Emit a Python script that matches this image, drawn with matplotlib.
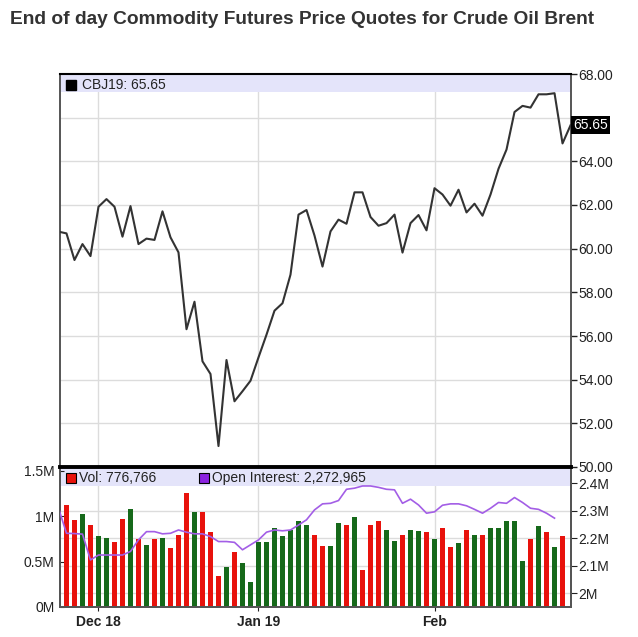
import matplotlib.pyplot as plt
from matplotlib.patches import Rectangle
from matplotlib.transforms import blended_transform_factory

plt.rcParams['font.family'] = ['Liberation Sans', 'DejaVu Sans']

# closing price, trading-day index -1 .. 63
price = [60.78, 60.70, 59.48, 60.21, 59.66, 61.92, 62.27, 61.92, 60.55, 61.95,
         60.21, 60.46, 60.40, 61.71, 60.52, 59.83, 56.31, 57.57, 54.84, 54.26,
         50.96, 54.90, 53.01, 53.47, 53.95, 55.02, 56.06, 57.16, 57.50, 58.81,
         61.56, 61.77, 60.60, 59.18, 60.79, 61.33, 61.14, 62.58, 62.58, 61.45,
         61.05, 61.17, 61.56, 59.82, 61.17, 61.54, 60.84, 62.77, 62.48, 61.97,
         62.70, 61.66, 62.06, 61.51, 62.48, 63.66, 64.54, 66.26, 66.54, 66.46,
         67.07, 67.07, 67.12, 64.82, 65.65]
price_idx = list(range(-1, 64))

# volume in millions, trading-day index 0 .. 62
volume = [1.12, 0.96, 1.02, 0.90, 0.78, 0.76, 0.71, 0.97, 1.08, 0.75,
          0.68, 0.75, 0.76, 0.645, 0.795, 1.25, 1.05, 1.05, 0.82, 0.34,
          0.44, 0.61, 0.48, 0.28, 0.72, 0.72, 0.87, 0.78, 0.85, 0.95,
          0.90, 0.79, 0.67, 0.67, 0.92, 0.90, 0.99, 0.41, 0.90, 0.95,
          0.85, 0.73, 0.79, 0.85, 0.84, 0.82, 0.75, 0.87, 0.66, 0.70,
          0.85, 0.79, 0.79, 0.87, 0.87, 0.95, 0.95, 0.51, 0.75, 0.89,
          0.82, 0.66, 0.777]
vol_dir = "rrgrggrrgrgrgrrrgrrrgrgggggggggrrggrgrrrggrggrgrrgrgrgggggrgrgr"
vol_idx = list(range(0, 63))

# open interest in millions, trading-day index -1 .. 61
oi = [2.31, 2.218, 2.217, 2.215, 2.121, 2.139, 2.139, 2.139, 2.139, 2.152,
      2.194, 2.224, 2.224, 2.216, 2.218, 2.230, 2.222, 2.216, 2.216, 2.206,
      2.188, 2.188, 2.185, 2.158, 2.176, 2.194, 2.222, 2.230, 2.227, 2.230,
      2.248, 2.267, 2.303, 2.325, 2.327, 2.337, 2.378, 2.382, 2.390, 2.390,
      2.385, 2.378, 2.376, 2.327, 2.342, 2.321, 2.291, 2.296, 2.320, 2.325,
      2.325, 2.318, 2.305, 2.291, 2.309, 2.330, 2.327, 2.348, 2.330, 2.309,
      2.305, 2.291, 2.273]
oi_idx = list(range(-1, 62))

month_ticks = [4, 24, 46]
month_labels = ['Dec 18', 'Jan 19', 'Feb']
price_ticks = [50, 52, 54, 56, 58, 60, 62, 64, 66, 68]
vol_ticks = [0, 0.5, 1.0, 1.5]
vol_labels = ['0M', '0.5M', '1M', '1.5M']
oi_ticks = [2.0, 2.1, 2.2, 2.3, 2.4]
oi_labels = ['2M', '2.1M', '2.2M', '2.3M', '2.4M']

grid_c = '#dcdcdc'
band_c = '#e4e4fa'
red = '#e8120c'
green = '#16691a'
purple = '#a35ee6'
fs = 10

fig = plt.figure(figsize=(6.38, 6.37), dpi=100)
fig.text(10 / 638, 1 - 19 / 637,
         'End of day Commodity Futures Price Quotes for Crude Oil Brent',
         fontsize=13.8, fontweight='bold', color='#333333', va='center')

W, H = 638, 637
ax1 = fig.add_axes([60 / W, (H - 467) / H, 511 / W, 393 / H])
ax2 = fig.add_axes([60 / W, (H - 607) / H, 511 / W, 140 / H])
ax3 = ax2.twinx()

xlim = (-0.81, 63.06)

# ---- price panel
ax1.set_xlim(*xlim)
ax1.set_ylim(50, 68)
for v in price_ticks[1:-1]:
    ax1.axhline(v, color=grid_c, lw=1, zorder=0)
for m in month_ticks:
    ax1.axvline(m, color=grid_c, lw=1, zorder=0)
ax1.add_patch(Rectangle((0, 0.955), 1, 0.045, transform=ax1.transAxes,
                        color=band_c, zorder=1, lw=0))
ax1.plot(price_idx, price, color='#333333', lw=1.5, zorder=3)
ax1.plot([0.021], [0.973], 's', color='black', ms=7, transform=ax1.transAxes)
ax1.text(0.043, 0.973, 'CBJ19: 65.65', transform=ax1.transAxes,
         fontsize=fs, va='center', color='#222222')

ax1.yaxis.tick_right()
ax1.set_yticks(price_ticks)
ax1.set_yticklabels(['' if v == 66 else '%.2f' % v for v in price_ticks])
ax1.tick_params(axis='y', length=4, width=1, pad=1.5, labelsize=fs,
                colors='#222222')
ax1.set_xticks([])
bt = blended_transform_factory(ax1.transAxes, ax1.transData)
ax1.text(1.004, 65.65, '65.65', transform=bt, fontsize=fs, color='white',
         va='center', ha='left',
         bbox=dict(facecolor='black', edgecolor='none', pad=1.5))

for s in ['left', 'right']:
    ax1.spines[s].set_color('#555555')
    ax1.spines[s].set_linewidth(1.4)
ax1.spines['top'].set_linewidth(1.5)
ax1.spines['bottom'].set_linewidth(2.8)
ax1.set_zorder(3)

# ---- volume / open interest panel
ax2.set_xlim(*xlim)
ax2.set_ylim(0, 1.54)
ax3.set_ylim(1.950, 2.459)
bt2 = blended_transform_factory(ax2.transAxes, ax3.transData)
for v in oi_ticks:
    ax2.plot([0, 1], [v, v], color=grid_c, lw=1, transform=bt2, zorder=0)
for m in month_ticks:
    ax2.axvline(m, color=grid_c, lw=1, zorder=0)
ax2.add_patch(Rectangle((0, 0.864), 1, 0.122, transform=ax2.transAxes,
                        color=band_c, zorder=1, lw=0))
colors = [red if c == 'r' else green for c in vol_dir]
ax2.bar(vol_idx, volume, width=0.64, color=colors, zorder=2)
ax3.plot(oi_idx, oi, color=purple, lw=1.2, zorder=3)

ax2.plot([0.0215], [0.922], 's', color=red, mec='black', mew=0.8, ms=7,
         transform=ax2.transAxes)
ax2.text(0.038, 0.922, 'Vol: 776,766', transform=ax2.transAxes,
         fontsize=fs, va='center', color='#222222')
ax2.plot([0.281], [0.922], 's', color='#8b22e0', mec='black', mew=0.8, ms=7,
         transform=ax2.transAxes)
ax2.text(0.298, 0.922, 'Open Interest: 2,272,965', transform=ax2.transAxes,
         fontsize=fs, va='center', color='#222222')

ax2.set_yticks(vol_ticks)
ax2.set_yticklabels(vol_labels)
ax2.tick_params(axis='y', direction='in', length=3, pad=4, labelsize=fs,
                colors='#222222')
ax3.set_yticks(oi_ticks)
ax3.set_yticklabels(oi_labels)
ax3.tick_params(axis='y', length=4, pad=1.5, labelsize=fs, colors='#222222')
ax2.set_xticks(month_ticks)
ax2.set_xticklabels(month_labels, fontweight='bold')
ax2.tick_params(axis='x', length=3, pad=3, labelsize=fs, colors='#222222')

for a in (ax2, ax3):
    a.spines['top'].set_visible(False)
    for s in ['left', 'right', 'bottom']:
        a.spines[s].set_color('#555555')
        a.spines[s].set_linewidth(1.4)

fig.savefig('out.png', dpi=100)
